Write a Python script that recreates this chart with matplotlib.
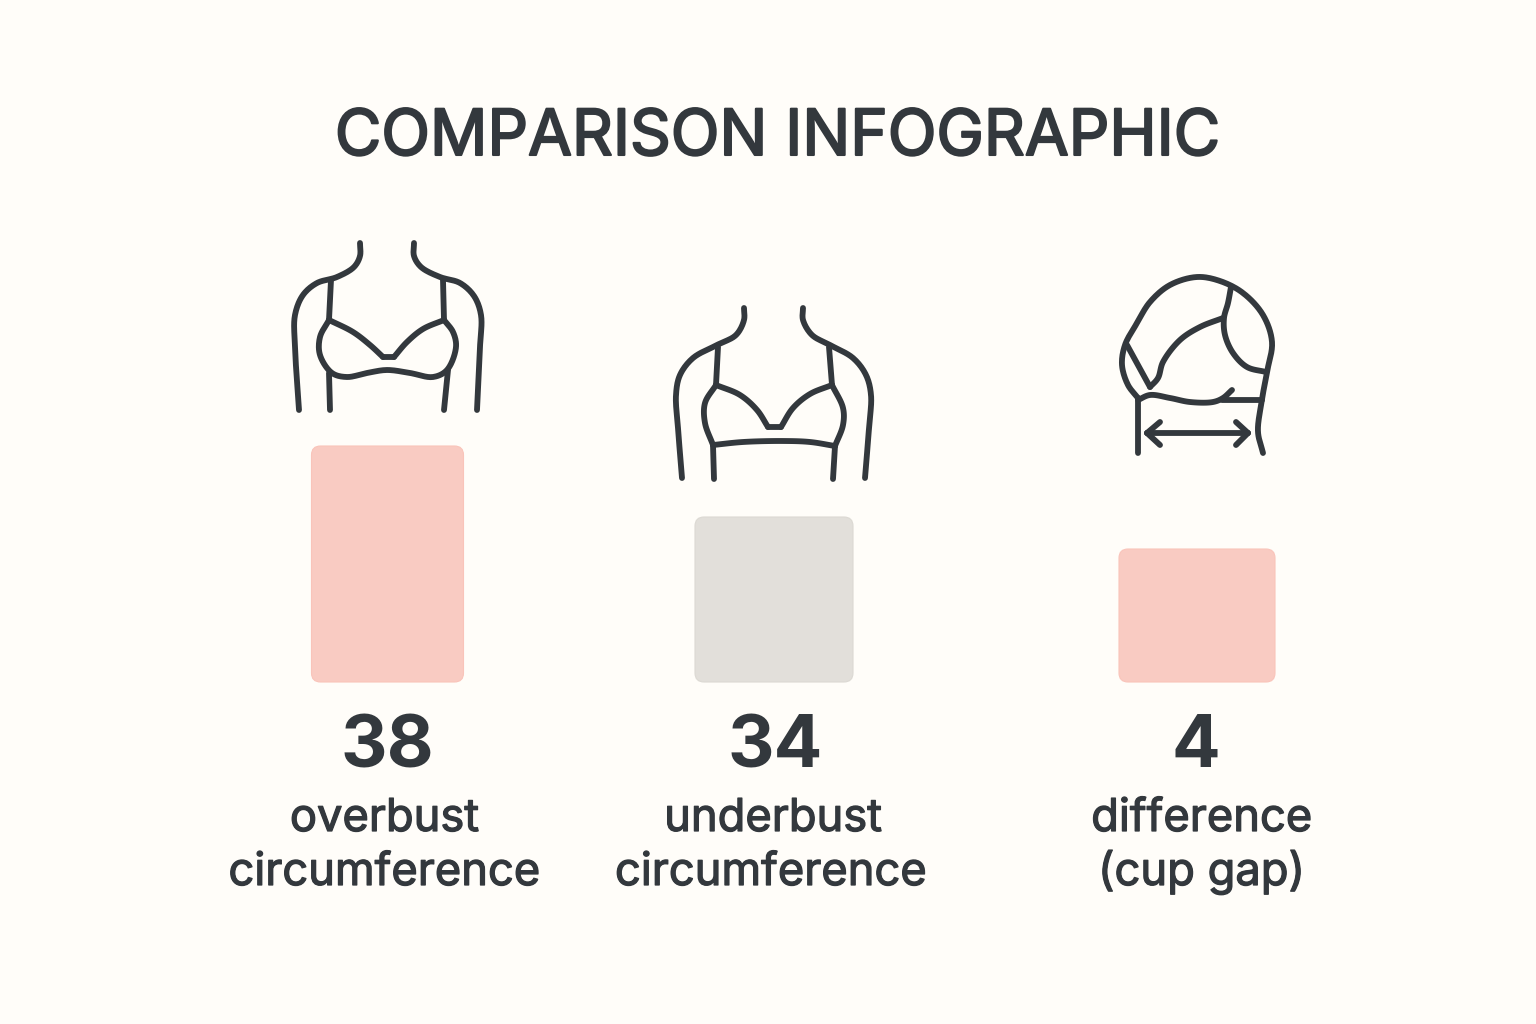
import numpy as np
import matplotlib
matplotlib.use('Agg')
import matplotlib.pyplot as plt
import matplotlib.patheffects as pe
from matplotlib.patches import FancyBboxPatch

plt.rcParams['font.family'] = ['Inter', 'DejaVu Sans']

# data
title = 'COMPARISON INFOGRAPHIC'
values = ['38', '34', '4']
labels_top = ['overbust', 'underbust', 'difference']
labels_bottom = ['circumference', 'circumference', '(cup gap)']
# bar heights as drawn, they don't scale with the values
bar_heights = [236, 165, 133]
bar_widths = [152, 158, 156]
bar_centers = [387.5, 774, 1197]
bar_colors = ['#f9cbc2', '#e2dfda', '#f9cbc2']
bar_edges = ['#f9c4ba', '#dcd9d3', '#f9c4ba']
value_x = [387, 775, 1196]
top_x = [384.5, 773, 1201.5]
bottom_x = [384, 770.5, 1201.5]

BASE = 682
INK = '#33383d'
BG = '#fffdf9'


def smooth(pts, n=16):
    # centripetal catmull-rom through the points
    pts = np.array(pts, dtype=float)
    if len(pts) == 2:
        return pts
    p = np.vstack([2 * pts[0] - pts[1], pts, 2 * pts[-1] - pts[-2]])
    out = []
    for i in range(1, len(p) - 2):
        p0, p1, p2, p3 = p[i - 1], p[i], p[i + 1], p[i + 2]
        t0 = 0
        t1 = t0 + np.linalg.norm(p1 - p0) ** 0.5
        t2 = t1 + np.linalg.norm(p2 - p1) ** 0.5
        t3 = t2 + np.linalg.norm(p3 - p2) ** 0.5
        for t in np.linspace(t1, t2, n, endpoint=False):
            a1 = (t1 - t) / (t1 - t0) * p0 + (t - t0) / (t1 - t0) * p1
            a2 = (t2 - t) / (t2 - t1) * p1 + (t - t1) / (t2 - t1) * p2
            a3 = (t3 - t) / (t3 - t2) * p2 + (t - t2) / (t3 - t2) * p3
            b1 = (t2 - t) / (t2 - t0) * a1 + (t - t0) / (t2 - t0) * a2
            b2 = (t3 - t) / (t3 - t1) * a2 + (t - t1) / (t3 - t1) * a3
            out.append((t2 - t) / (t2 - t1) * b1 + (t - t1) / (t2 - t1) * b2)
    out.append(p[-2])
    return np.array(out)


# icon outlines, traced in pixels
icon_overbust = [
    [(360, 243), (360, 256), (354, 267), (337, 277), (317, 283), (303, 295), (295, 315), (295, 347), (299, 410)],
    [(414, 243), (414, 256), (421, 267), (440, 277), (460, 283), (474, 296), (481, 315), (480, 347), (477, 410)],
    [(331, 280), (329, 320)],
    [(443, 280), (444, 320)],
    [(329, 320), (353, 332), (370, 345), (383, 357)],
    [(383, 357), (394, 357)],
    [(394, 357), (407, 342), (423, 329), (444, 320)],
    [(329, 320), (320, 337), (320, 355), (332, 373), (347, 377), (367, 373), (387, 370), (410, 373),
     (433, 377), (447, 370), (456, 347), (453, 332), (444, 320)],
    [(329, 373), (330, 410)],
    [(448, 370), (444, 410)],
]
icon_underbust = [
    [(744, 308), (744, 320), (736, 335), (717, 345), (693, 358), (680, 375), (676, 395), (678, 428), (682, 478)],
    [(803, 308), (803, 320), (812, 335), (830, 345), (853, 358), (866, 375), (871, 395), (869, 428), (865, 478)],
    [(718, 347), (716, 385)],
    [(829, 347), (832, 385)],
    [(716, 385), (740, 395), (757, 410), (768, 427)],
    [(768, 427), (781, 427)],
    [(781, 427), (793, 408), (810, 394), (832, 385)],
    [(716, 385), (705, 403), (705, 423), (713, 445)],
    [(832, 385), (843, 408), (843, 425), (835, 446)],
    [(713, 445), (743, 442), (783, 441), (810, 442), (835, 446)],
    [(713, 445), (714, 479)],
    [(835, 446), (833, 479)],
]
icon_difference = [
    [(1263, 453), (1258, 432), (1261, 405), (1267, 372), (1272, 342), (1263, 315), (1243, 293), (1220, 281),
     (1197, 277), (1170, 285), (1150, 302), (1137, 323), (1125, 345), (1122, 365), (1128, 385), (1138, 398)],
    [(1138, 398), (1138, 453)],
    [(1127, 345), (1150, 387)],
    [(1150, 387), (1158, 378), (1163, 362), (1180, 340), (1200, 327), (1223, 318)],
    [(1231, 287), (1228, 303), (1224, 318), (1225, 335), (1233, 353), (1247, 367), (1266, 372)],
    [(1138, 400), (1150, 395), (1170, 398), (1190, 402), (1213, 402), (1223, 398), (1232, 390)],
    [(1222, 400), (1262, 400)],
    [(1147, 433), (1248, 433)],
    [(1160, 422), (1147, 433)],
    [(1147, 433), (1160, 445)],
    [(1236, 422), (1248, 433)],
    [(1248, 433), (1236, 445)],
]

fig = plt.figure(figsize=(15.36, 10.24), dpi=100, facecolor=BG)
ax = fig.add_axes([0, 0, 1, 1])
ax.set_xlim(0, 1536)
ax.set_ylim(1024, 0)
ax.axis('off')

# Inter comes out regular here, thicken it a bit with a stroke
heavy = [pe.withStroke(linewidth=1.5, foreground=INK)]
medium = [pe.withStroke(linewidth=0.9, foreground=INK)]

ax.text(777.5, 155, title, ha='center', va='baseline', fontsize=45.8, color=INK, path_effects=heavy)

for icon in [icon_overbust, icon_underbust, icon_difference]:
    for part in icon:
        xy = smooth(part)
        ax.plot(xy[:, 0], xy[:, 1], color=INK, lw=4.2, solid_capstyle='round', solid_joinstyle='round')

for i in range(len(values)):
    x0 = bar_centers[i] - bar_widths[i] / 2
    ax.add_patch(FancyBboxPatch((x0 + 9, BASE - bar_heights[i] + 9), bar_widths[i] - 18, bar_heights[i] - 18,
                                boxstyle='round,pad=9,rounding_size=9', fc=bar_colors[i], ec=bar_edges[i], lw=0.8))
    ax.text(value_x[i], 767, values[i], ha='center', va='baseline', fontsize=52, fontweight='bold', color=INK)
    ax.text(top_x[i], 831, labels_top[i], ha='center', va='baseline', fontsize=32.6, color=INK, path_effects=medium)
    ax.text(bottom_x[i], 885, labels_bottom[i], ha='center', va='baseline', fontsize=32.6, color=INK, path_effects=medium)

fig.savefig('out.png', dpi=100, facecolor=BG)
